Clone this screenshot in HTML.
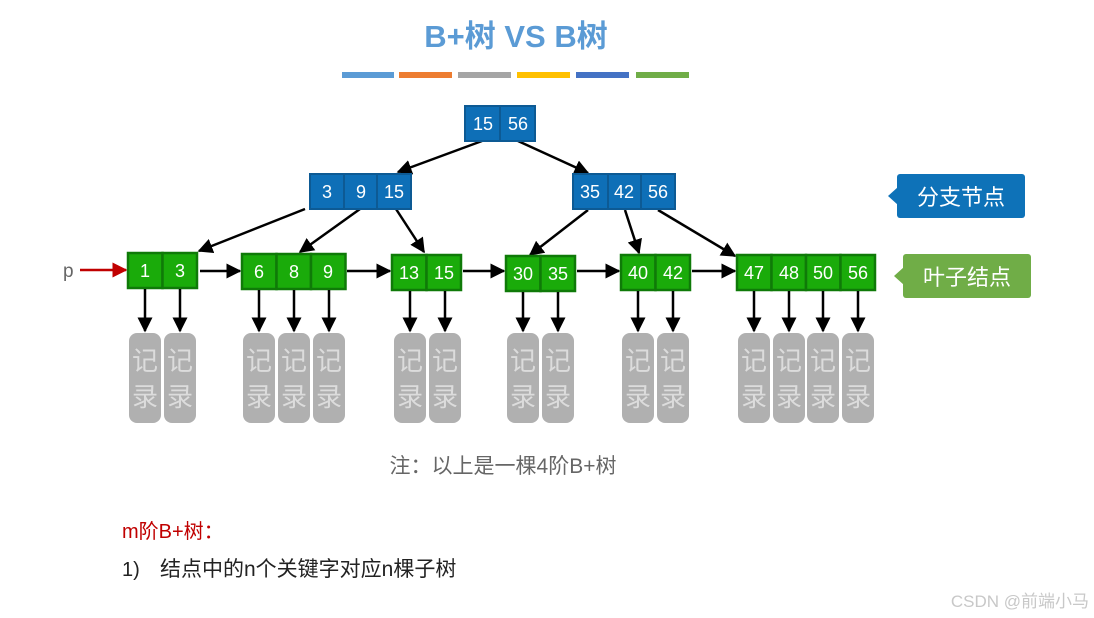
<!DOCTYPE html>
<html><head><meta charset="utf-8"><style>
html,body{margin:0;padding:0;background:#fff;}
svg{display:block;font-family:"Liberation Sans","Noto Sans CJK SC",sans-serif;}
</style></head><body>
<svg width="1094" height="618" viewBox="0 0 1094 618">
<defs>
<marker id="a" viewBox="0 0 10 10" refX="9" refY="5" markerWidth="6" markerHeight="6" orient="auto"><path d="M0,0L10,5L0,10z" fill="#000"/></marker>
<marker id="r" viewBox="0 0 10 10" refX="9" refY="5" markerWidth="6" markerHeight="6" orient="auto"><path d="M0,0L10,5L0,10z" fill="#c00000"/></marker>
</defs>
<text x="516" y="47" text-anchor="middle" font-size="31" font-weight="bold" fill="#5b9bd5">B+树 VS B树</text>
<rect x="342" y="72" width="52" height="6" fill="#5b9bd5"/>
<rect x="399" y="72" width="53" height="6" fill="#ed7d31"/>
<rect x="458" y="72" width="53" height="6" fill="#a5a5a5"/>
<rect x="517" y="72" width="53" height="6" fill="#ffc000"/>
<rect x="576" y="72" width="53" height="6" fill="#4472c4"/>
<rect x="636" y="72" width="53" height="6" fill="#70ad47"/>

<g stroke="#000" stroke-width="2.5" fill="none" marker-end="url(#a)">
<line x1="482" y1="141" x2="398" y2="172"/>
<line x1="518" y1="141" x2="588" y2="173"/>
<line x1="305" y1="209" x2="199" y2="251"/>
<line x1="360" y1="209" x2="300" y2="252"/>
<line x1="396" y1="209" x2="424" y2="252"/>
<line x1="588" y1="210" x2="530" y2="255"/>
<line x1="625" y1="210" x2="639" y2="253"/>
<line x1="658" y1="210" x2="735" y2="256"/>
<line x1="200" y1="271" x2="240" y2="271"/>
<line x1="347" y1="271" x2="390" y2="271"/>
<line x1="463" y1="271" x2="504" y2="271"/>
<line x1="577" y1="271" x2="619" y2="271"/>
<line x1="692" y1="271" x2="735" y2="271"/>
</g>
<line x1="80" y1="270" x2="126" y2="270" stroke="#c00000" stroke-width="2.5" marker-end="url(#r)"/>
<text x="63" y="277" font-size="19" fill="#666">p</text>

<g stroke="#0d5a94" stroke-width="2" fill="#0e6fb7">
<rect x="465" y="106" width="35" height="35"/><rect x="500" y="106" width="35" height="35"/>
<rect x="310" y="174" width="34" height="35"/><rect x="344" y="174" width="33" height="35"/><rect x="377" y="174" width="34" height="35"/>
<rect x="573" y="174" width="35" height="35"/><rect x="608" y="174" width="33" height="35"/><rect x="641" y="174" width="34" height="35"/>
</g>
<g fill="#fff" font-size="18" text-anchor="middle">
<text x="483" y="130">15</text><text x="518" y="130">56</text>
<text x="327" y="198">3</text><text x="361" y="198">9</text><text x="394" y="198">15</text>
<text x="590" y="198">35</text><text x="624" y="198">42</text><text x="658" y="198">56</text>
</g>

<g stroke="#0f7a08" stroke-width="2.5" fill="#1aab0a">
<rect x="128" y="253" width="34.5" height="35"/><rect x="162.5" y="253" width="34.5" height="35"/>
<rect x="242" y="254" width="34.5" height="35"/><rect x="276.5" y="254" width="34.5" height="35"/><rect x="311" y="254" width="34.5" height="35"/>
<rect x="392" y="255" width="34.5" height="35"/><rect x="426.5" y="255" width="34.5" height="35"/>
<rect x="506" y="256" width="34.5" height="35"/><rect x="540.5" y="256" width="34.5" height="35"/>
<rect x="621" y="255" width="34.5" height="35"/><rect x="655.5" y="255" width="34.5" height="35"/>
<rect x="737" y="255" width="34.5" height="35"/><rect x="771.5" y="255" width="34.5" height="35"/><rect x="806" y="255" width="34.5" height="35"/><rect x="840.5" y="255" width="34.5" height="35"/>
</g>
<g fill="#fff" font-size="18" text-anchor="middle">
<text x="145" y="277">1</text><text x="180" y="277">3</text>
<text x="259" y="278">6</text><text x="294" y="278">8</text><text x="328" y="278">9</text>
<text x="409" y="279">13</text><text x="444" y="279">15</text>
<text x="523" y="280">30</text><text x="558" y="280">35</text>
<text x="638" y="279">40</text><text x="673" y="279">42</text>
<text x="754" y="279">47</text><text x="789" y="279">48</text><text x="823" y="279">50</text><text x="858" y="279">56</text>
</g>

<g stroke="#000" stroke-width="2.5" marker-end="url(#a)">
<line x1="145" y1="289" x2="145" y2="331"/><line x1="180" y1="289" x2="180" y2="331"/>
<line x1="259" y1="290" x2="259" y2="331"/><line x1="294" y1="290" x2="294" y2="331"/><line x1="329" y1="290" x2="329" y2="331"/>
<line x1="410" y1="291" x2="410" y2="331"/><line x1="445" y1="291" x2="445" y2="331"/>
<line x1="523" y1="292" x2="523" y2="331"/><line x1="558" y1="292" x2="558" y2="331"/>
<line x1="638" y1="291" x2="638" y2="331"/><line x1="673" y1="291" x2="673" y2="331"/>
<line x1="754" y1="291" x2="754" y2="331"/><line x1="789" y1="291" x2="789" y2="331"/><line x1="823" y1="291" x2="823" y2="331"/><line x1="858" y1="291" x2="858" y2="331"/>
</g>

<g fill="#b0b0b0">
<rect x="129" y="333" width="32" height="90" rx="8"/><rect x="164" y="333" width="32" height="90" rx="8"/>
<rect x="243" y="333" width="32" height="90" rx="8"/><rect x="278" y="333" width="32" height="90" rx="8"/><rect x="313" y="333" width="32" height="90" rx="8"/>
<rect x="394" y="333" width="32" height="90" rx="8"/><rect x="429" y="333" width="32" height="90" rx="8"/>
<rect x="507" y="333" width="32" height="90" rx="8"/><rect x="542" y="333" width="32" height="90" rx="8"/>
<rect x="622" y="333" width="32" height="90" rx="8"/><rect x="657" y="333" width="32" height="90" rx="8"/>
<rect x="738" y="333" width="32" height="90" rx="8"/><rect x="773" y="333" width="32" height="90" rx="8"/><rect x="807" y="333" width="32" height="90" rx="8"/><rect x="842" y="333" width="32" height="90" rx="8"/>
</g>
<g fill="#dcdcdc" font-size="26" text-anchor="middle">
<text x="145" y="370">记</text><text x="145" y="406">录</text><text x="180" y="370">记</text><text x="180" y="406">录</text>
<text x="259" y="370">记</text><text x="259" y="406">录</text><text x="294" y="370">记</text><text x="294" y="406">录</text><text x="329" y="370">记</text><text x="329" y="406">录</text>
<text x="410" y="370">记</text><text x="410" y="406">录</text><text x="445" y="370">记</text><text x="445" y="406">录</text>
<text x="523" y="370">记</text><text x="523" y="406">录</text><text x="558" y="370">记</text><text x="558" y="406">录</text>
<text x="638" y="370">记</text><text x="638" y="406">录</text><text x="673" y="370">记</text><text x="673" y="406">录</text>
<text x="754" y="370">记</text><text x="754" y="406">录</text><text x="789" y="370">记</text><text x="789" y="406">录</text><text x="823" y="370">记</text><text x="823" y="406">录</text><text x="858" y="370">记</text><text x="858" y="406">录</text>
</g>

<rect x="897" y="174" width="128" height="44" rx="3" fill="#0e72b8"/>
<path d="M898,187 L888,196 L898,205z" fill="#0e72b8"/>
<text x="961" y="205" text-anchor="middle" font-size="22" fill="#fff">分支节点</text>
<rect x="903" y="254" width="128" height="44" rx="3" fill="#70ad47"/>
<path d="M904,267 L894,276 L904,285z" fill="#70ad47"/>
<text x="967" y="285" text-anchor="middle" font-size="22" fill="#fff">叶子结点</text>

<text x="503" y="473" text-anchor="middle" font-size="21" fill="#666">注：以上是一棵4阶B+树</text>
<text x="122" y="538" font-size="20" fill="#c00000">m阶B+树：</text>
<text x="122" y="576" font-size="20" fill="#222">1)</text>
<text x="160" y="576" font-size="21" fill="#222">结点中的n个关键字对应n棵子树</text>
<text x="1089" y="607" text-anchor="end" font-size="17" fill="#c8c8c8">CSDN @前端小马</text>
</svg>
</body></html>
